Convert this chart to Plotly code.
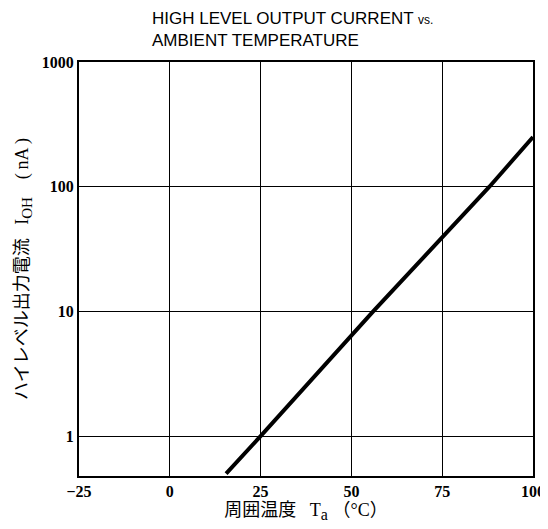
import plotly.graph_objects as go

# Data
temperature_c = [15.5, 25, 56, 88, 100]
current_na = [0.5, 1.0, 10.0, 100.0, 250.0]

x_ticks = [-25, 0, 25, 50, 75, 100]
x_tick_labels = ["−25", "0", "25", "50", "75", "100"]
y_ticks = [1, 10, 100, 1000]
y_tick_labels = ["1", "10", "100", "1000"]

tick_font = dict(family="Liberation Serif, DejaVu Serif, serif", size=16, color="black", weight="bold")
label_font = dict(family="Liberation Serif, Noto Sans CJK JP", size=18, color="black")

# the page body has an 8px margin, so the figure is drawn 8px smaller and offset
W, H = 540, 521
fig = go.Figure()
fig.add_trace(go.Scatter(
    x=temperature_c, y=current_na, mode="lines",
    line=dict(color="black", width=4), showlegend=False, hoverinfo="skip",
))

fig.update_layout(
    width=W, height=H,
    margin=dict(l=71, r=15, t=54, b=53),
    paper_bgcolor="white", plot_bgcolor="white",
    xaxis=dict(
        range=[-25, 100], tickvals=x_ticks, ticktext=x_tick_labels,
        showgrid=True, gridcolor="black", gridwidth=1,
        showline=True, linecolor="black", linewidth=2, mirror=True,
        ticks="", zeroline=False, tickfont=tick_font, automargin=False,
        title=dict(text="\u2002\u2002周囲温度\u2002 T<sub><span style='font-size:16px'>a</span></sub> （°C）",
                   font=label_font, standoff=0),
    ),
    yaxis=dict(
        type="log", range=[-0.32, 3.0], tickvals=y_ticks, ticktext=y_tick_labels,
        showgrid=True, gridcolor="black", gridwidth=1,
        showline=True, linecolor="black", linewidth=2, mirror=True,
        ticks="", zeroline=False, tickfont=tick_font, automargin=False,
        title=dict(text="ハイレベル出力電流\u2002 I<sub><span style='font-size:15px'>OH</span></sub>\u2002\u2002(\u2009nA\u2009)",
                   font=label_font, standoff=8),
    ),
    annotations=[dict(
        text="HIGH LEVEL OUTPUT CURRENT <span style='font-size:12px'>vs.</span><br>AMBIENT TEMPERATURE",
        xref="paper", yref="paper", x=(150 - 79) / 454, y=1.0,
        xanchor="left", yanchor="bottom", yshift=10, align="left", showarrow=False,
        font=dict(family="Liberation Sans, Arial, sans-serif", size=17, color="black"),
    )],
)

fig.write_html("out.html")
